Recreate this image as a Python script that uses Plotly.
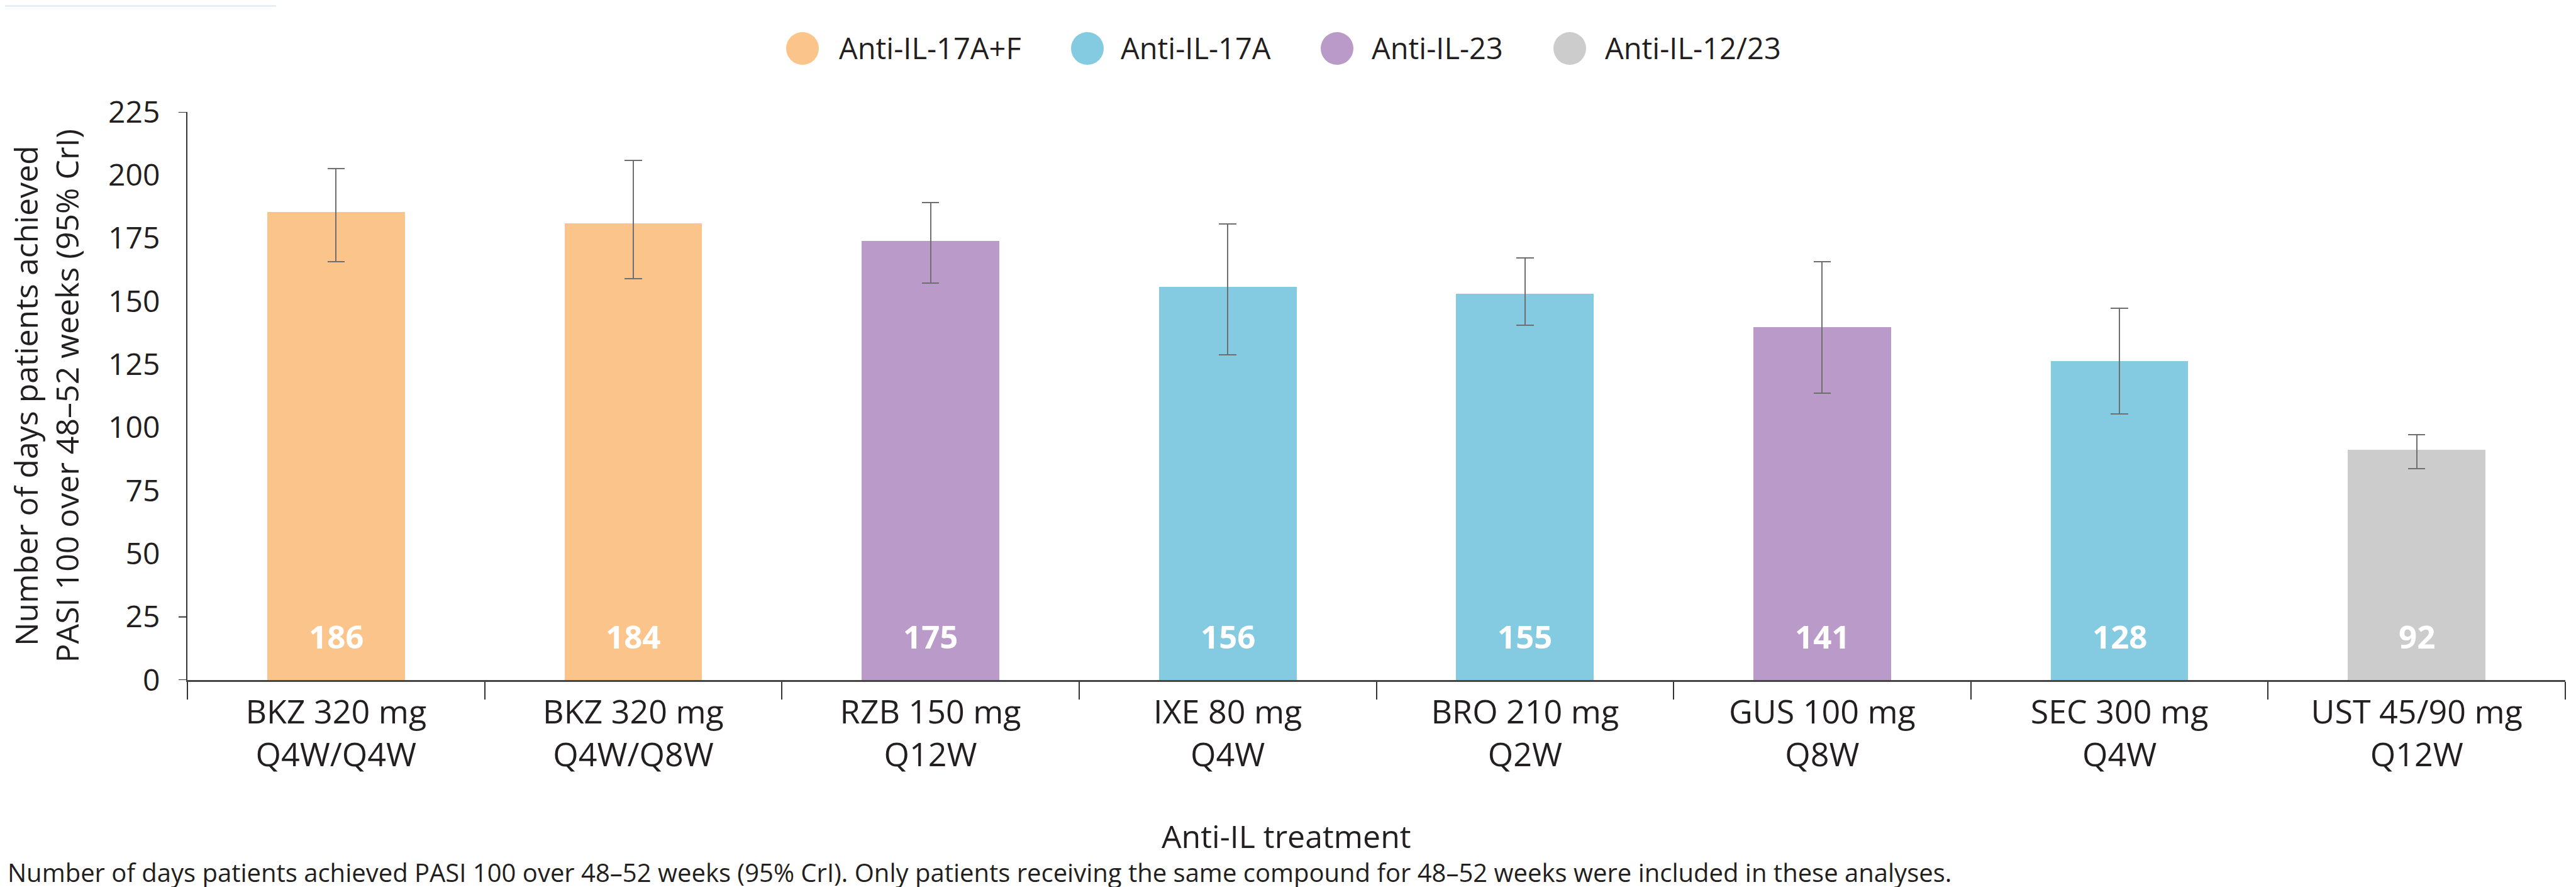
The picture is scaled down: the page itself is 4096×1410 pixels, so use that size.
import plotly.graph_objects as go

# ---------------- data ----------------
categories = ["BKZ 320 mg<br>Q4W/Q4W", "BKZ 320 mg<br>Q4W/Q8W", "RZB 150 mg<br>Q12W",
              "IXE 80 mg<br>Q4W", "BRO 210 mg<br>Q2W", "GUS 100 mg<br>Q8W",
              "SEC 300 mg<br>Q4W", "UST 45/90 mg<br>Q12W"]
groups = ["Anti-IL-17A+F", "Anti-IL-17A+F", "Anti-IL-23", "Anti-IL-17A",
          "Anti-IL-17A", "Anti-IL-23", "Anti-IL-17A", "Anti-IL-12/23"]
bar_values = [185.3, 180.9, 174.0, 155.8, 153.1, 139.9, 126.3, 91.2]
label_values = [186, 184, 175, 156, 155, 141, 128, 92]
ci_upper = [202.5, 205.8, 189.0, 180.7, 167.3, 165.6, 147.2, 97.1]
ci_lower = [165.6, 159.0, 157.3, 128.8, 140.5, 113.6, 105.3, 83.6]
legend_groups = ["Anti-IL-17A+F", "Anti-IL-17A", "Anti-IL-23", "Anti-IL-12/23"]
y_ticks = [0, 25, 50, 75, 100, 125, 150, 175, 200, 225]

# ---------------- style ----------------
group_colors = {"Anti-IL-17A+F": "#FBC48A", "Anti-IL-17A": "#84CAE0",
                "Anti-IL-23": "#B99AC9", "Anti-IL-12/23": "#CCCCCC"}
TEXT = "#231F20"
FONT = "Open Sans"
W, H = 4096, 1410
L, R, T, B = 290, 4071, 170, 1073


def px(x):
    return (x - L) / (R - L)


def py(y):
    return (B - y) / (B - T)


fig = go.Figure()
fig.add_trace(go.Bar(
    x=categories, y=bar_values,
    marker=dict(color=[group_colors[g] for g in groups], line=dict(width=0)),
    width=0.463,
    error_y=dict(type="data", symmetric=False,
                 array=[u - v for u, v in zip(ci_upper, bar_values)],
                 arrayminus=[v - l for v, l in zip(bar_values, ci_lower)],
                 color="#6E6E6E", thickness=2, width=13.8),
    showlegend=False, hoverinfo="skip",
))

annotations = []
shapes = []

# value labels inside bars
for c, lv in zip(categories, label_values):
    annotations.append(dict(x=c, y=17.4, xref="x", yref="y", text=str(lv), showarrow=False,
                            xanchor="center", yanchor="middle",
                            font=dict(family=FONT, size=51, color="white", weight=700)))

# manual legend (large circular markers)
legend_circle_x = [1268, 1721, 2118, 2488]
legend_text_x = [1324, 1772, 2171, 2542]
for g, cx, tx in zip(legend_groups, legend_circle_x, legend_text_x):
    shapes.append(dict(type="circle", xref="paper", yref="paper",
                       xsizemode="pixel", ysizemode="pixel",
                       xanchor=px(cx), yanchor=py(69),
                       x0=-26, x1=26, y0=-26, y1=26,
                       fillcolor=group_colors[g], line=dict(width=0)))
    annotations.append(dict(x=px(tx), y=py(68), xref="paper", yref="paper", text=g,
                            showarrow=False, xanchor="left", yanchor="middle",
                            font=dict(family=FONT, size=47, color=TEXT)))

# visible y ticks only at some values (as in the reference)
for v in [225, 25, 0]:
    shapes.append(dict(type="line", xref="paper", yref="y", xsizemode="pixel", xanchor=0,
                       x0=-14, x1=0, y0=v, y1=v, line=dict(color="#333333", width=2)))

# faint strip at top-left
shapes.append(dict(type="rect", xref="paper", yref="paper", x0=px(0), x1=px(431),
                   y0=py(3), y1=py(0), fillcolor="#E5EFF8", line=dict(width=0), layer="below"))

# axis titles
annotations.append(dict(x=px(65), y=0.5, xref="paper", yref="paper",
                        text="Number of days patients achieved<br>PASI 100 over 48\u201352 weeks (95% CrI)",
                        textangle=-90, showarrow=False, xanchor="center", yanchor="middle",
                        font=dict(family=FONT, size=50, color=TEXT)))
annotations.append(dict(x=px(2037), y=py(1321), xref="paper", yref="paper",
                        text="Anti-IL treatment", showarrow=False,
                        xanchor="center", yanchor="middle",
                        font=dict(family=FONT, size=50, color=TEXT)))
# footnote
annotations.append(dict(x=px(2), y=py(1349), xref="paper", yref="paper",
                        text="Number of days patients achieved PASI 100 over 48\u201352 weeks (95% CrI). "
                             "Only patients receiving the same compound for 48\u201352 weeks were included in these analyses.",
                        showarrow=False, xanchor="left", yanchor="top",
                        font=dict(family=FONT, size=40, color=TEXT)))

fig.update_layout(
    width=W, height=H,
    margin=dict(l=L, r=W - R, t=T, b=H - B, pad=0),
    paper_bgcolor="white", plot_bgcolor="white",
    font=dict(family=FONT, color=TEXT),
    annotations=annotations, shapes=shapes,
    showlegend=False,
    bargap=0,
)
fig.update_xaxes(type="category", range=[-0.5, 7.5], tickson="boundaries",
                 ticks="outside", ticklen=28.6, tickwidth=2, tickcolor="#333333",
                 ticklabelstandoff=4,
                 showline=True, linecolor="#444444", linewidth=2.5, showgrid=False,
                 tickfont=dict(family=FONT, size=52, color=TEXT), fixedrange=True)
fig.update_yaxes(range=[0, 225], tickvals=y_ticks, ticks="outside", ticklen=14,
                 tickcolor="rgba(0,0,0,0)", ticklabelstandoff=18,
                 showline=True, linecolor="#333333", linewidth=2, showgrid=False,
                 zeroline=False, tickfont=dict(family=FONT, size=48, color=TEXT),
                 fixedrange=True)

fig.write_html("out.html")
